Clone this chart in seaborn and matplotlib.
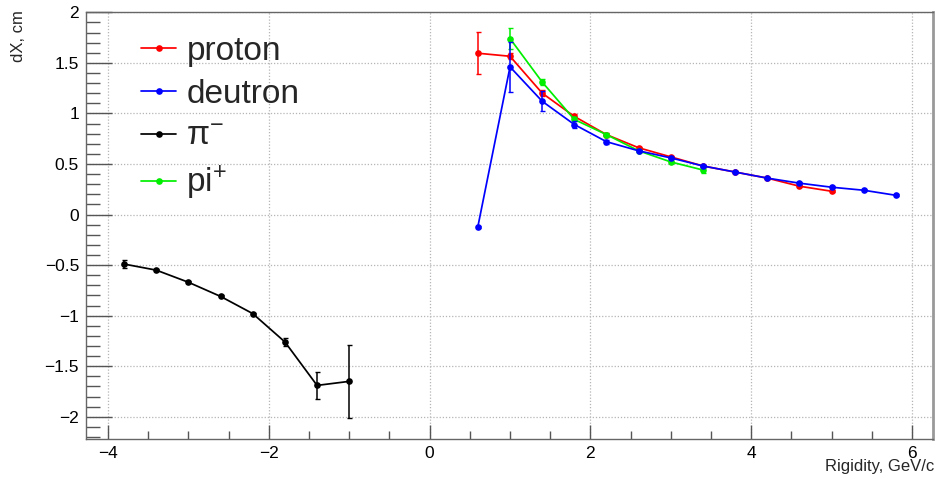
import numpy as np
import pandas as pd
import matplotlib
matplotlib.use("Agg")
import matplotlib.pyplot as plt
from matplotlib.ticker import MultipleLocator, FuncFormatter
import seaborn as sns

# --- measured dX versus rigidity for each particle species ---
proton_x = [0.6, 1.0, 1.4, 1.8, 2.2, 2.6, 3.0, 3.4, 3.8, 4.2, 4.6, 5.0]
proton_y = [1.595, 1.565, 1.20, 0.97, 0.79, 0.66, 0.57, 0.48, 0.42, 0.36, 0.28, 0.23]
proton_err = [0.21, 0.03, 0.03, 0.02, 0.02, 0.01, 0.01, 0.01, 0.01, 0.01, 0.01, 0.01]

deutron_x = [0.6, 1.0, 1.4, 1.8, 2.2, 2.6, 3.0, 3.4, 3.8, 4.2, 4.6, 5.0, 5.4, 5.8]
deutron_y = [-0.12, 1.46, 1.12, 0.89, 0.72, 0.63, 0.56, 0.48, 0.42, 0.36, 0.31, 0.27, 0.24, 0.19]
deutron_err = [0.01, 0.25, 0.10, 0.03, 0.02, 0.01, 0.01, 0.01, 0.01, 0.01, 0.01, 0.01, 0.01, 0.01]

pim_x = [-3.8, -3.4, -3.0, -2.6, -2.2, -1.8, -1.4, -1.0]
pim_y = [-0.49, -0.55, -0.67, -0.81, -0.98, -1.26, -1.69, -1.65]
pim_err = [0.04, 0.01, 0.01, 0.01, 0.01, 0.04, 0.13, 0.36]

pip_x = [1.0, 1.4, 1.8, 2.2, 2.6, 3.0, 3.4]
pip_y = [1.74, 1.31, 0.94, 0.79, 0.63, 0.52, 0.44]
pip_err = [0.10, 0.03, 0.02, 0.02, 0.01, 0.01, 0.03]

series = [
    ("proton", proton_x, proton_y, proton_err, "#ff0000"),
    ("pi$^{+}$", pip_x, pip_y, pip_err, "#00ee00"),
    ("π$^{-}$", pim_x, pim_y, pim_err, "#000000"),
    ("deutron", deutron_x, deutron_y, deutron_err, "#0000ff"),
]
legend_order = ["proton", "deutron", "π$^{-}$", "pi$^{+}$"]

sns.set_theme(style="white")
plt.rcParams["font.family"] = ["Liberation Sans", "DejaVu Sans"]
plt.rcParams["mathtext.fontset"] = "custom"
plt.rcParams["mathtext.rm"] = "Liberation Sans"
plt.rcParams["mathtext.it"] = "Liberation Sans:italic"
plt.rcParams["axes.unicode_minus"] = True

fig = plt.figure(figsize=(9.39, 4.79), dpi=100)
ax = fig.add_axes([0.0916, 0.0835, 0.9020, 0.8915])

for name, xs, ys, es, col in series:
    df = pd.DataFrame({"rigidity": xs, "dx": ys})
    sns.lineplot(data=df, x="rigidity", y="dx", ax=ax, color=col, marker="o",
                 markersize=4.8, markeredgewidth=0, linewidth=1.25,
                 estimator=None, errorbar=None, label=name, sort=False)
    ax.errorbar(xs, ys, yerr=es, fmt="none", ecolor=col, elinewidth=1.1,
                capsize=1.8, capthick=1.0)

# legend in fixed entry order
h, l = ax.get_legend_handles_labels()
hmap = dict(zip(l, h))
ax.legend([hmap[k] for k in legend_order], legend_order, loc="upper left",
          bbox_to_anchor=(0.0655, 0.944), frameon=False, fontsize=24,
          handlelength=1.05, handletextpad=0.3, labelspacing=0.35,
          borderaxespad=0.0, borderpad=0.0)

ax.set_xlim(-4.274, 6.261)
ax.set_ylim(-2.22, 2.003)

ax.xaxis.set_major_locator(MultipleLocator(2))
ax.xaxis.set_minor_locator(MultipleLocator(0.5))
ax.yaxis.set_major_locator(MultipleLocator(0.5))
ax.yaxis.set_minor_locator(MultipleLocator(0.1))
fmt = FuncFormatter(lambda v, p: ("%g" % v).replace("-", "\u2212"))
ax.xaxis.set_major_formatter(fmt)
ax.yaxis.set_major_formatter(fmt)

ax.tick_params(axis="both", which="both", direction="in", colors="#555555",
               labelcolor="black", labelsize=12.5, bottom=True, left=True,
               top=False, right=False)
ax.tick_params(axis="y", which="major", length=19, width=1.0, pad=5)
ax.tick_params(axis="y", which="minor", length=10, width=1.0)
ax.tick_params(axis="x", which="major", length=10, width=1.0, pad=5)
ax.tick_params(axis="x", which="minor", length=5.5, width=1.0)

ax.grid(True, which="major", color="#b5b5b5", linestyle=(0, (1, 1.5)), linewidth=0.9)
ax.set_axisbelow(True)

for s in ax.spines.values():
    s.set_color("#666666")
    s.set_linewidth(1.0)
ax.spines["right"].set_linewidth(2.0)
ax.spines["right"].set_color("#999999")

ax.set_xlabel("Rigidity, GeV/c", loc="right", fontsize=12)
ax.xaxis.set_label_coords(1.002, -0.047)
ax.set_ylabel("dX, cm", loc="top", fontsize=12)
ax.yaxis.set_label_coords(-0.071, 1.005)

fig.savefig("out.png", dpi=100)
